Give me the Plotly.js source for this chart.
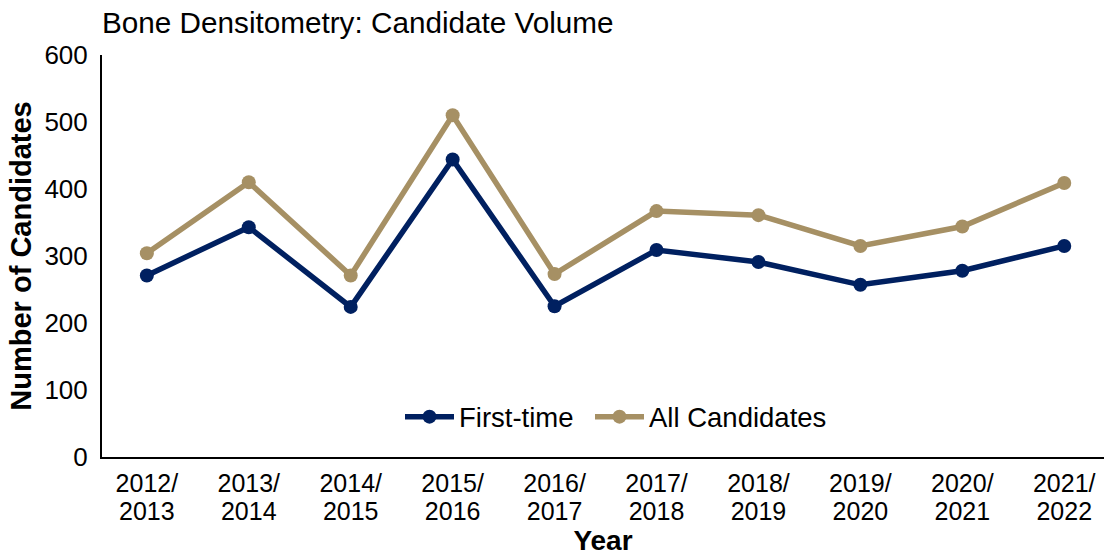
<!DOCTYPE html>
<html>
<head>
<meta charset="utf-8">
<script src="https://cdn.plot.ly/plotly-3.0.1.min.js"></script>
<style>html,body{margin:0;padding:0;background:#fff;}#chart{width:1104px;height:556px;}</style>
</head>
<body>
<div id="chart"></div>
<script>
const yearStart = ["2012/","2013/","2014/","2015/","2016/","2017/","2018/","2019/","2020/","2021/"];
const yearEnd = ["2013","2014","2015","2016","2017","2018","2019","2020","2021","2022"];
const firstTime = [271, 343, 224, 444, 225, 309, 291, 257, 278, 315];
const allCandidates = [304, 410, 271, 510, 273, 367, 361, 315, 344, 409];
const yTicks = [0, 100, 200, 300, 400, 500, 600];

const NAVY = "#002060";
const GOLD = "#A69064";
const FONT = "Liberation Sans, Arial, sans-serif";

const idx = yearStart.map((_, i) => i);
const xRange = [-0.44, 9.39];

const traces = [
  {x: idx, y: firstTime, name: "First-time", type: "scatter", mode: "lines+markers",
   line: {color: NAVY, width: 5.5}, marker: {color: NAVY, size: 14}, legend: "legend"},
  {x: idx, y: allCandidates, name: "All Candidates", type: "scatter", mode: "lines+markers",
   line: {color: GOLD, width: 5.5}, marker: {color: GOLD, size: 14}, legend: "legend2"},
  {x: idx, y: firstTime, xaxis: "x2", type: "scatter", mode: "none", showlegend: false, hoverinfo: "skip"}
];

const legendBase = {orientation: "h", xanchor: "left", y: 0.1, yanchor: "middle",
  font: {family: FONT, size: 27.5, color: "#000"}, bgcolor: "rgba(0,0,0,0)", itemwidth: 49};

const layout = {
  width: 1104, height: 556,
  margin: {l: 102, r: 0, t: 55, b: 99},
  paper_bgcolor: "#fff", plot_bgcolor: "#fff",
  font: {family: FONT, color: "#000", size: 24},
  title: {text: "Bone Densitometry: Candidate Volume", font: {family: FONT, size: 29.7, color: "#000"},
          xref: "container", x: 102/1104, xanchor: "left", yref: "container", y: 1 - 23/556, yanchor: "middle"},
  xaxis: {
    tickmode: "array", tickvals: idx, ticktext: yearStart,
    range: xRange, showgrid: false, zeroline: false,
    showline: true, linecolor: "#000", linewidth: 2, ticks: "",
    tickfont: {family: FONT, size: 25, color: "#000"}, ticklabelstandoff: 3
  },
  xaxis2: {
    overlaying: "x", anchor: "y", side: "bottom",
    tickmode: "array", tickvals: idx, ticktext: yearEnd,
    range: xRange, showgrid: false, zeroline: false, showline: false, ticks: "",
    tickfont: {family: FONT, size: 25, color: "#000"}, ticklabelstandoff: 37,
    title: {text: "<b>Year</b>", font: {family: FONT, size: 28, color: "#000"}, standoff: 1}
  },
  yaxis: {
    range: [0, 600], tickmode: "array", tickvals: yTicks,
    showgrid: false, zeroline: false, showline: true, linecolor: "#000", linewidth: 2, ticks: "",
    tickfont: {family: FONT, size: 26, color: "#000"}, ticklabelstandoff: 7,
    title: {text: "<b>Number of Candidates</b>", font: {family: FONT, size: 29, color: "#000"}, standoff: 4}
  },
  legend: Object.assign({}, legendBase, {x: (400 - 102) / 1002}),
  legend2: Object.assign({}, legendBase, {x: (590 - 102) / 1002}),
  showlegend: true
};

Plotly.newPlot("chart", traces, layout, {displayModeBar: false, staticPlot: true});
</script>
</body>
</html>
